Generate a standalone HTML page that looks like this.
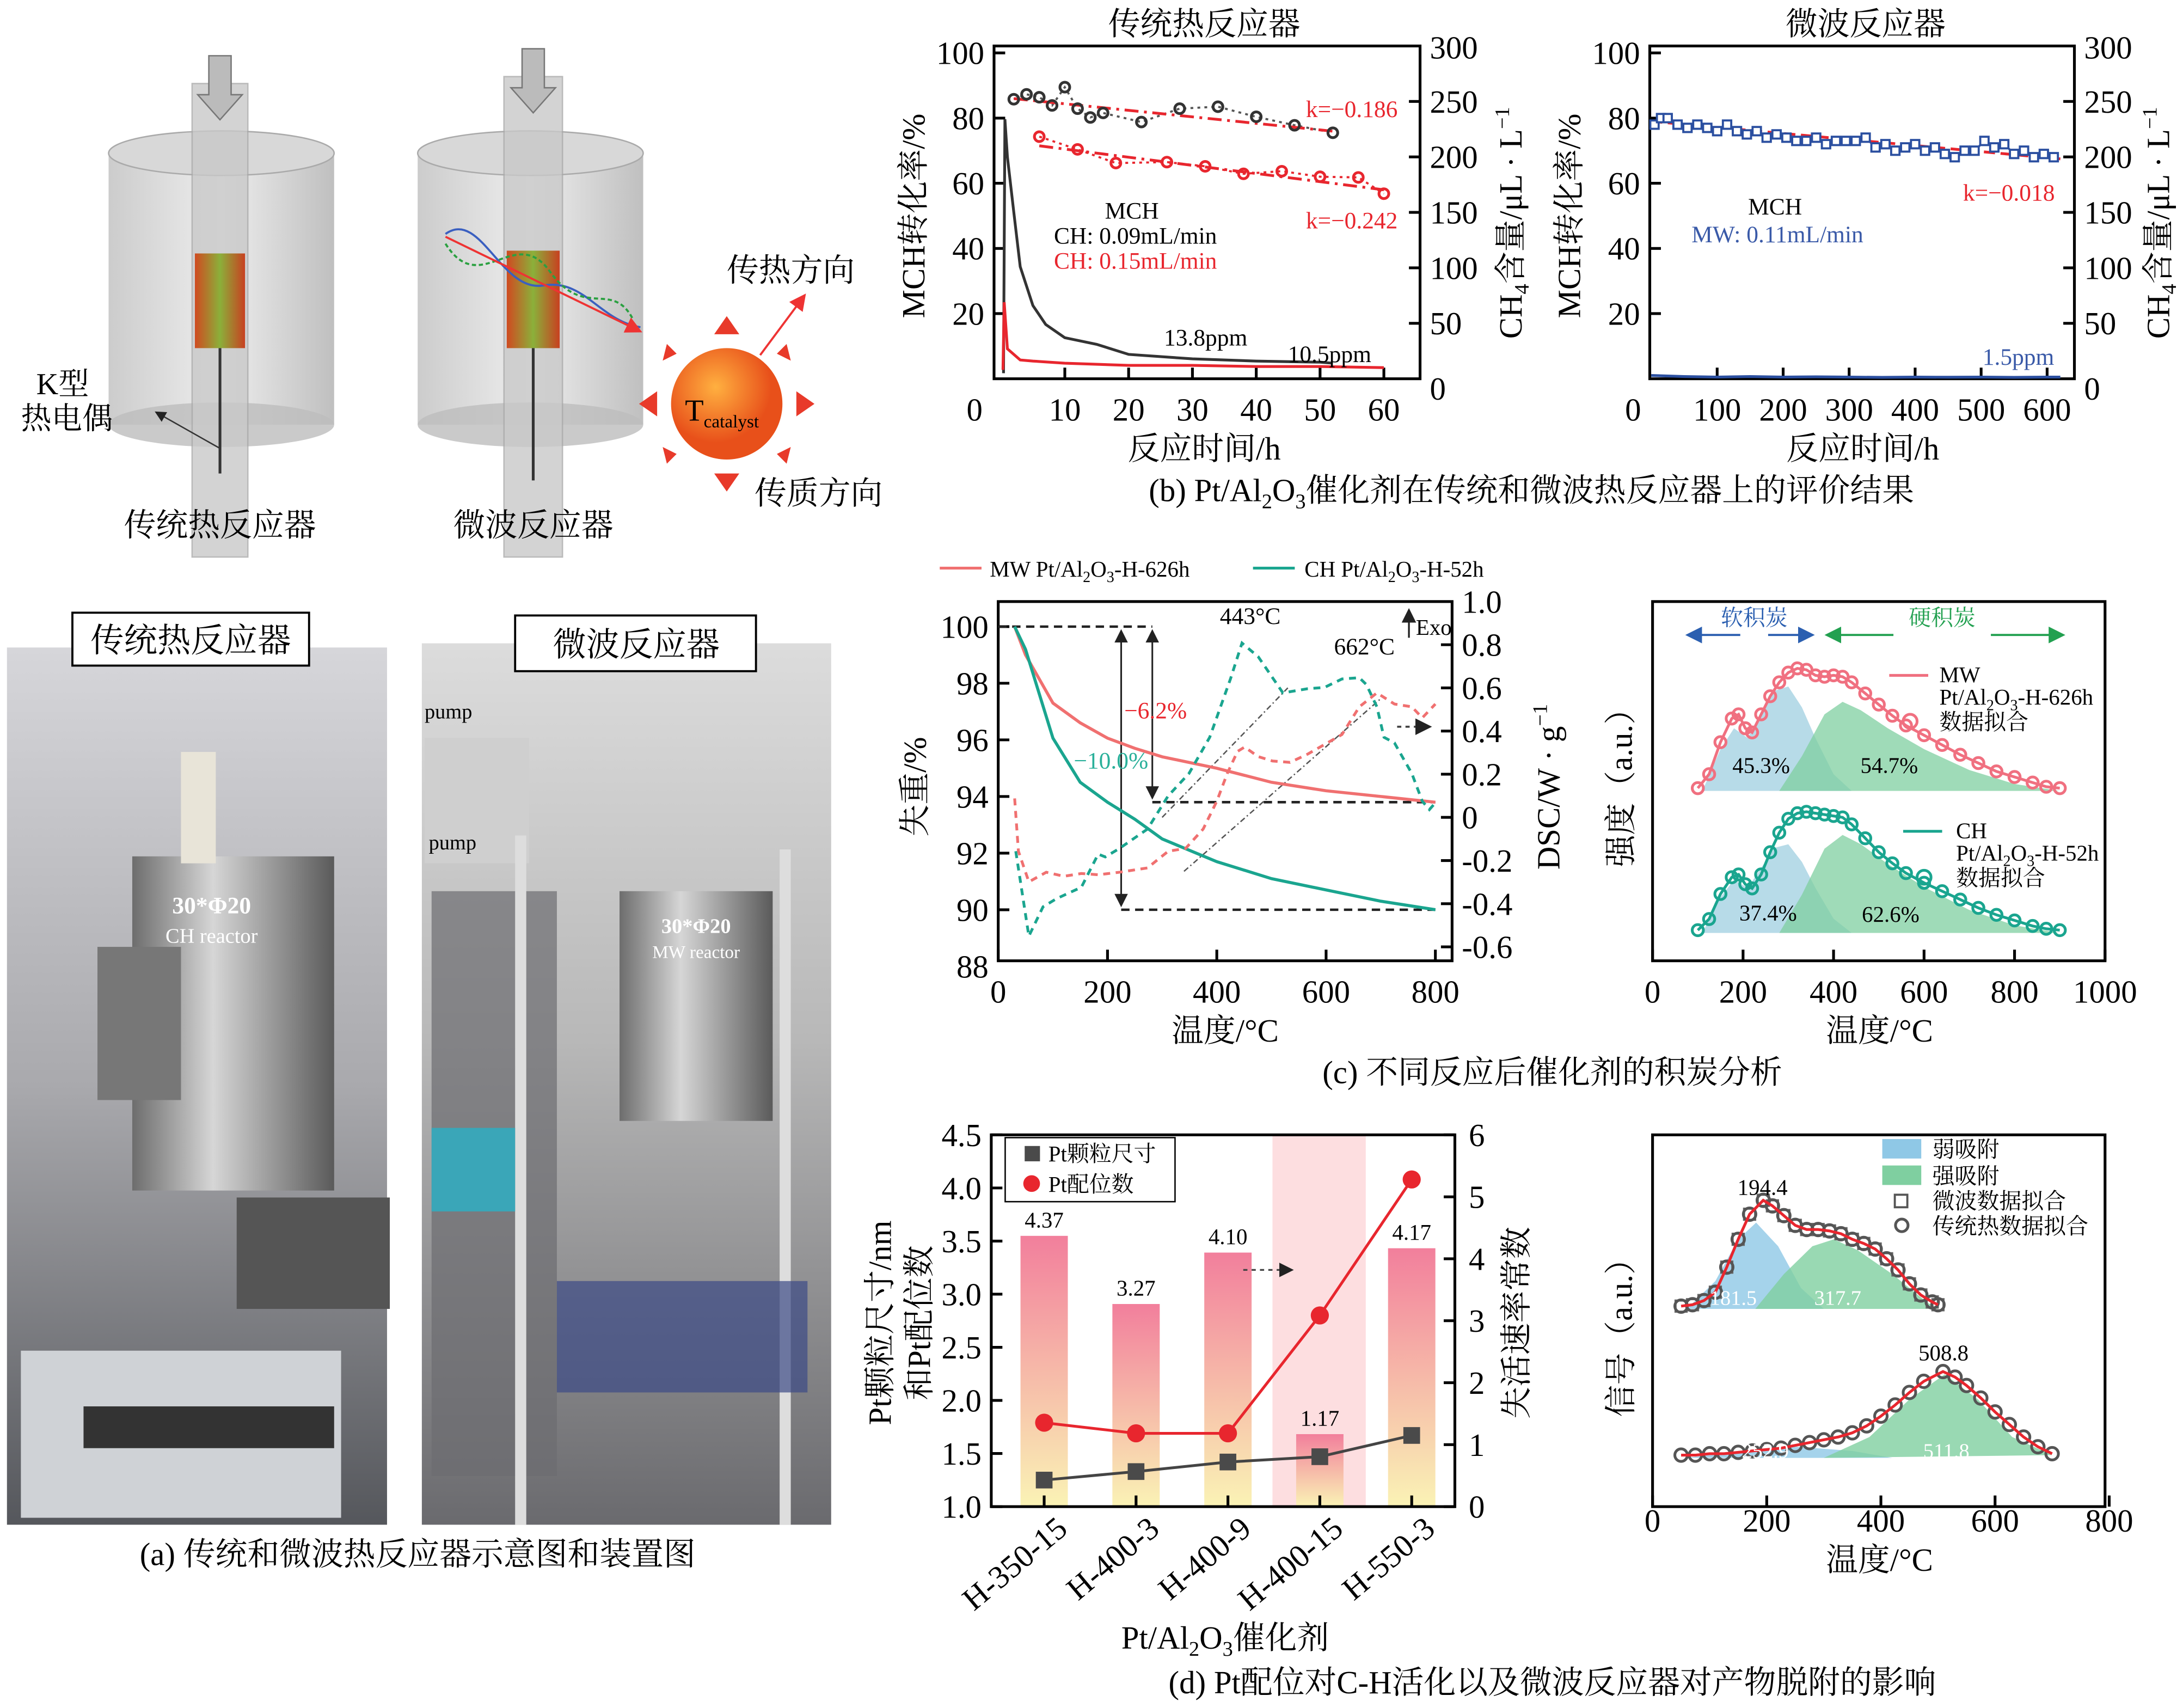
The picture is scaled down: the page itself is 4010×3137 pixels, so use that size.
<!DOCTYPE html>
<html><head><meta charset="utf-8">
<style>
html,body{margin:0;padding:0;background:#fff;}
svg{display:block;font-family:"Liberation Serif","Noto Serif CJK SC",serif;}
</style></head>
<body>
<svg id="fig" width="4010" height="3137" viewBox="0 0 1568 1226.6" xmlns="http://www.w3.org/2000/svg">
<defs>
<linearGradient id="cyl" x1="0" x2="1"><stop offset="0" stop-color="#bbb"/><stop offset="0.5" stop-color="#e8e8e8"/><stop offset="1" stop-color="#aaa"/></linearGradient>
<linearGradient id="cat" x1="0" x2="1"><stop offset="0" stop-color="#d04a20"/><stop offset="0.5" stop-color="#8bb03a"/><stop offset="1" stop-color="#c84020"/></linearGradient>
<radialGradient id="ball" cx="0.4" cy="0.35"><stop offset="0" stop-color="#ffb040"/><stop offset="1" stop-color="#e8501a"/></radialGradient>
<linearGradient id="bar" x1="0" y1="0" x2="0" y2="1"><stop offset="0" stop-color="#f27f9c"/><stop offset="1" stop-color="#faf3b5"/></linearGradient>
<linearGradient id="wall" x1="0" y1="0" x2="0" y2="1"><stop offset="0" stop-color="#d6d6da"/><stop offset="0.5" stop-color="#a9a9ad"/><stop offset="1" stop-color="#55575c"/></linearGradient>
<linearGradient id="wall2" x1="0" y1="0" x2="0" y2="1"><stop offset="0" stop-color="#dcdcdc"/><stop offset="0.45" stop-color="#b8b8b8"/><stop offset="1" stop-color="#6a6a6e"/></linearGradient>
<linearGradient id="metal" x1="0" x2="1"><stop offset="0" stop-color="#6d6d6d"/><stop offset="0.4" stop-color="#d6d6d6"/><stop offset="1" stop-color="#5a5a5a"/></linearGradient>
<marker id="ah" markerWidth="8" markerHeight="8" refX="7" refY="4" orient="auto"><path d="M0,0 L8,4 L0,8 z" fill="#222"/></marker>
<marker id="ahr" markerWidth="8" markerHeight="8" refX="7" refY="4" orient="auto"><path d="M0,0 L8,4 L0,8 z" fill="#e33"/></marker>
<marker id="ahb" markerWidth="8" markerHeight="8" refX="7" refY="4" orient="auto"><path d="M0,0 L8,4 L0,8 z" fill="#2b5fb0"/></marker>
<marker id="ahg" markerWidth="8" markerHeight="8" refX="7" refY="4" orient="auto"><path d="M0,0 L8,4 L0,8 z" fill="#22a050"/></marker>
</defs>

<g>
  <rect x="78" y="110" width="162" height="195" fill="url(#cyl)" opacity="0.75"/>
  <ellipse cx="159" cy="110" rx="81" ry="16" fill="#d8d8d8" stroke="#aaa"/>
  <ellipse cx="159" cy="305" rx="81" ry="16" fill="#bdbdbd" opacity="0.8"/>
  <rect x="138" y="60" width="40" height="340" fill="#c9c9c9" opacity="0.8" stroke="#aaa"/>
  <path d="M150,40 L166,40 L166,68 L174,68 L158,86 L142,68 L150,68 z" fill="#bbb" stroke="#777"/>
  <rect x="140" y="182" width="36" height="68" fill="url(#cat)"/>
  <line x1="158" y1="250" x2="158" y2="340" stroke="#333" stroke-width="2"/>
  <line x1="158" y1="322" x2="112" y2="296" stroke="#333" stroke-width="1" marker-end="url(#ah)"/>
  <text x="45" y="283" font-size="22" text-anchor="middle">K型</text>
  <text x="48" y="308" font-size="22" text-anchor="middle">热电偶</text>
  <text x="158" y="385" font-size="23" text-anchor="middle">传统热反应器</text>
</g>
<g>
  <rect x="300" y="110" width="162" height="195" fill="url(#cyl)" opacity="0.75"/>
  <ellipse cx="381" cy="110" rx="81" ry="16" fill="#d8d8d8" stroke="#aaa"/>
  <ellipse cx="381" cy="305" rx="81" ry="16" fill="#bdbdbd" opacity="0.8"/>
  <rect x="362" y="55" width="42" height="345" fill="#c9c9c9" opacity="0.8" stroke="#aaa"/>
  <path d="M375,35 L391,35 L391,63 L399,63 L383,81 L367,63 L375,63 z" fill="#bbb" stroke="#777"/>
  <rect x="364" y="180" width="38" height="70" fill="url(#cat)"/>
  <line x1="383" y1="250" x2="383" y2="345" stroke="#333" stroke-width="2"/>
  <path d="M320,168 C345,150 360,210 390,205 C420,200 430,230 460,235" fill="none" stroke="#3a5fc0" stroke-width="1.5"/>
  <path d="M320,175 C345,215 370,160 395,195 C420,230 440,200 455,230" fill="none" stroke="#2aa040" stroke-width="1.5" stroke-dasharray="3,2"/>
  <line x1="320" y1="170" x2="460" y2="238" stroke="#e33" stroke-width="1.5" marker-end="url(#ahr)"/>
  <text x="383" y="385" font-size="23" text-anchor="middle">微波反应器</text>
</g>
<g>
  <g fill="#e83a2a">
    <path d="M522,240 l-9,0 l9,-13 l9,13 z"/><path d="M522,340 l-9,0 l9,13 l9,-13 z"/>
    <path d="M472,290 l0,-9 l-13,9 l13,9 z"/><path d="M572,290 l0,-9 l13,9 l-13,9 z"/>
    <path d="M486,254 l-7,-7 l-3,12 z"/><path d="M558,254 l7,-7 l3,12 z"/>
    <path d="M486,326 l-7,7 l-3,-12 z"/><path d="M558,326 l7,7 l3,-12 z"/>
  </g>
  <circle cx="522" cy="290" r="40" fill="url(#ball)"/>
  <line x1="546" y1="255" x2="578" y2="212" stroke="#e33" stroke-width="1.5" marker-end="url(#ahr)"/>
  <text x="492" y="302" font-size="22">T<tspan font-size="13" dy="5">catalyst</tspan></text>
  <text x="568" y="202" font-size="23" text-anchor="middle">传热方向</text>
  <text x="588" y="362" font-size="23" text-anchor="middle">传质方向</text>
</g>

<g>
  <rect x="5" y="465" width="273" height="630" fill="url(#wall)"/>
  <rect x="95" y="615" width="145" height="240" fill="url(#metal)"/>
  <rect x="70" y="680" width="60" height="110" fill="#777"/>
  <rect x="15" y="970" width="230" height="120" fill="#cfd2d6"/>
  <rect x="60" y="1010" width="180" height="30" fill="#333"/>
  <rect x="130" y="540" width="25" height="80" fill="#e8e4d8"/>
  <rect x="170" y="860" width="110" height="80" fill="#555"/>
  <text x="152" y="656" font-size="17" fill="#fff" text-anchor="middle" font-weight="bold">30*Φ20</text>
  <text x="152" y="677" font-size="15" fill="#fff" text-anchor="middle">CH reactor</text>
  <rect x="52" y="440" width="170" height="38" fill="#fff" stroke="#000" stroke-width="1.5"/>
  <text x="137" y="468" font-size="24" text-anchor="middle">传统热反应器</text>
</g>
<g>
  <rect x="303" y="462" width="294" height="633" fill="url(#wall2)"/>
  <rect x="305" y="530" width="75" height="90" fill="#cfcfcf"/>
  <rect x="310" y="640" width="90" height="420" fill="#6c6c70" opacity="0.7"/>
  <rect x="445" y="640" width="110" height="165" fill="url(#metal)"/>
  <rect x="370" y="600" width="8" height="495" fill="#ddd"/>
  <rect x="560" y="610" width="8" height="485" fill="#ddd"/>
  <rect x="310" y="810" width="60" height="60" fill="#3aa6b8"/>
  <rect x="400" y="920" width="180" height="80" fill="#3c4a86" opacity="0.7"/>
  <text x="305" y="516" font-size="15">pump</text>
  <text x="308" y="610" font-size="15">pump</text>
  <text x="500" y="670" font-size="15" fill="#fff" text-anchor="middle" font-weight="bold">30*Φ20</text>
  <text x="500" y="688" font-size="13" fill="#fff" text-anchor="middle">MW reactor</text>
  <rect x="370" y="442" width="173" height="40" fill="#fff" stroke="#000" stroke-width="1.5"/>
  <text x="457" y="471" font-size="24" text-anchor="middle">微波反应器</text>
</g>
<text x="300" y="1124" font-size="23" text-anchor="middle">(a) 传统和微波热反应器示意图和装置图</text>
<text x="1100" y="360" font-size="23" text-anchor="middle">(b) Pt/Al<tspan font-size="15" dy="5">2</tspan><tspan dy="-5">O</tspan><tspan font-size="15" dy="5">3</tspan><tspan dy="-5">催化剂在传统和微波热反应器上的评价结果</tspan></text>
<text x="1115" y="778" font-size="23" text-anchor="middle">(c) 不同反应后催化剂的积炭分析</text>
<text x="1115" y="1216" font-size="23" text-anchor="middle">(d) Pt配位对C-H活化以及微波反应器对产物脱附的影响</text>

<g id="b1"></g>
<g id="b2"></g>
<g id="c1"></g>
<g id="c2"></g>
<g id="d1"></g>
<g id="d2"></g>
</svg>
<script>
// ---------- data ----------
const b1BlackX=[2,4,6,8,10,12,14,16,22,28,34,40,46,52];
const b1BlackY=[85.8,87.3,86.4,83.9,89.5,82.9,80.2,81.6,78.8,82.9,83.5,80.4,77.8,75.5];
const b1RedX=[6,12,18,26,32,38,44,50,56,60];
const b1RedY=[74.3,70.4,66.2,66.5,65.2,62.9,63.7,62.0,61.8,56.8];
const b1Fit1=[[2,86],[52,76]];
const b1Fit2=[[6,71.5],[60,58]];
const b1Ch4BlackX=[0.4,0.6,1,2,3,5,7,10,15,20,30,40,50,52];
const b1Ch4BlackY=[5,234,200,150,101,66,49,37,31,22,18,16,15,14];
const b1Ch4RedX=[0.3,0.5,1,3,5,10,20,30,40,50,60];
const b1Ch4RedY=[8,69,27,17,16,14,12,12,11,11,10];
const b1XTicks=[10,20,30,40,50,60];
const leftTicks=[20,40,60,80,100];
const rightTicks=[0,50,100,150,200,250,300];
const b2X=[5,15,25,40,55,70,85,100,115,130,145,160,175,190,205,220,235,250,265,280,295,310,325,340,355,370,385,400,415,430,445,460,475,490,505,520,535,550,565,580,595,610];
const b2Y=[78,80,80,78,77,78,77,76,78,76,75,76,74,75,74,73,73,74,72,73,73,73,74,71,72,70,71,72,70,71,69,68,70,70,73,71,72,69,70,68,69,68];
const b2ChX=[0,50,100,150,200,250,300,350,400,450,500,550,600,620];
const b2ChY=[3,2,1.5,2,1.5,1.8,1.5,1.2,1.5,1.4,1.5,1.3,1.5,1.5];
const b2Fit=[[0,79],[620,67.5]];
const b2XTicks=[100,200,300,400,500,600];
const c1T=[30,50,100,150,200,250,300,400,500,600,700,800];
const c1RedTG=[100,99.0,97.3,96.6,96.06,95.7,95.4,95.0,94.5,94.2,94.0,93.8];
const c1TealTG=[100,99.2,96.06,94.5,93.8,93.2,92.5,91.7,91.1,90.7,90.3,90.0];
const c1TealDscT=[32,56,82,107,152,183,196,222,273,311,349,387,425,446,476,521,566,597,629,661,674,693,706,725,757,776,789,800];
const c1TealDsc=[-0.157,-0.55,-0.414,-0.376,-0.324,-0.17,-0.183,-0.144,-0.054,0.10,0.203,0.371,0.641,0.808,0.744,0.577,0.596,0.602,0.641,0.647,0.615,0.512,0.371,0.345,0.203,0.075,0.036,0.068];
const c1RedDscT=[30,37,56,88,120,152,183,222,273,311,343,375,400,419,438,451,476,502,534,566,629,661,693,725,757,776,800];
const c1RedDsc=[0.088,-0.157,-0.299,-0.254,-0.273,-0.26,-0.266,-0.254,-0.234,-0.157,-0.144,-0.054,0.075,0.203,0.306,0.326,0.281,0.261,0.255,0.293,0.384,0.512,0.577,0.525,0.512,0.461,0.525];
const c1XTicks=[0,200,400,600,800];
const c1LeftTicks=[88,90,92,94,96,98,100];
const c1RightTicks=[-0.6,-0.4,-0.2,0,0.2,0.4,0.6,0.8,1.0];
const c2T=[100,125,150,175,190,205,220,240,260,280,300,320,340,360,380,400,420,440,470,500,530,560,600,640,680,720,760,800,840,870,900];
const c2MW=[0.02,0.12,0.35,0.52,0.55,0.45,0.42,0.55,0.68,0.78,0.85,0.88,0.87,0.83,0.82,0.83,0.82,0.78,0.7,0.62,0.54,0.47,0.4,0.33,0.26,0.2,0.14,0.1,0.06,0.03,0.02];
const c2CH=[0.02,0.1,0.28,0.4,0.42,0.35,0.32,0.42,0.58,0.72,0.82,0.86,0.87,0.86,0.85,0.84,0.83,0.78,0.68,0.58,0.5,0.43,0.36,0.3,0.24,0.18,0.13,0.09,0.05,0.03,0.02];
const c2SoftT=[110,150,180,210,240,270,300,330,360,400,440];
const c2SoftI=[0,0.3,0.45,0.38,0.55,0.72,0.75,0.6,0.38,0.12,0];
const c2HardT=[280,330,380,420,460,520,600,700,800,900];
const c2HardI=[0,0.25,0.55,0.64,0.58,0.45,0.3,0.15,0.05,0];
const c2XTicks=[0,200,400,600,800,1000];
const d1Cats=["H-350-15","H-400-3","H-400-9","H-400-15","H-550-3"];
const d1Rate=[4.37,3.27,4.10,1.17,4.17];
const d1Size=[1.25,1.33,1.42,1.47,1.67];
const d1Coord=[1.79,1.69,1.69,2.8,4.08];
const d1LeftTicks=[1.0,1.5,2.0,2.5,3.0,3.5,4.0,4.5];
const d1RightTicks=[0,1,2,3,4,5,6];
const d2TopT=[50,70,90,110,130,150,170,194,210,230,250,270,290,310,330,350,370,390,410,430,450,470,490,500];
const d2TopI=[0.02,0.03,0.06,0.12,0.3,0.5,0.68,0.78,0.74,0.67,0.6,0.57,0.57,0.56,0.54,0.5,0.47,0.43,0.36,0.28,0.18,0.1,0.05,0.03];
const d2TopWeakT=[60,110,150,181.5,220,260,300];
const d2TopWeakI=[0,0.2,0.5,0.62,0.45,0.15,0];
const d2TopStrT=[180,230,280,317.7,360,420,480,500];
const d2TopStrI=[0,0.25,0.45,0.5,0.42,0.25,0.05,0];
const d2BotT=[50,75,100,125,150,175,200,225,250,275,300,325,350,375,400,425,450,475,508.8,530,550,575,600,625,650,675,700];
const d2BotI=[0.02,0.02,0.03,0.03,0.04,0.05,0.06,0.07,0.09,0.11,0.13,0.15,0.18,0.23,0.3,0.38,0.47,0.55,0.62,0.58,0.52,0.43,0.33,0.24,0.15,0.08,0.03];
const d2BotWeakT=[60,150,252.9,350,420];
const d2BotWeakI=[0,0.05,0.08,0.05,0];
const d2BotStrT=[300,380,450,511.8,570,630,700];
const d2BotStrI=[0,0.15,0.42,0.6,0.42,0.15,0.02];
const d2XTicks=[0,200,400,600,800];

// ---------- helpers ----------
const NS='http://www.w3.org/2000/svg';
function mk(tag,attrs,parent){const e=document.createElementNS(NS,tag);for(const k in attrs)e.setAttribute(k,attrs[k]);parent.appendChild(e);return e;}
function lin(d0,d1,p0,p1){return v=>p0+(v-d0)*(p1-p0)/(d1-d0);}
function tx(parent,x,y,s,size,fill,anchor,name){const t=mk('text',{x:x,y:y,'font-size':size,fill:fill||'#000','text-anchor':anchor||'middle'},parent);t.textContent=s;


return t;}
function pathD(xs,ys,sx,sy){return xs.map((v,i)=>(i?'L':'M')+sx(v).toFixed(1)+','+sy(ys[i]).toFixed(1)).join(' ');}
function line(parent,d,stroke,w,dash,name){const p=mk('path',{d:d,fill:'none',stroke:stroke,'stroke-width':w},parent);if(dash)p.setAttribute('stroke-dasharray',dash);


return p;}
function box(g,x0,y0,x1,y1){const r=mk('rect',{x:x0,y:y0,width:x1-x0,height:y1-y0,fill:'none',stroke:'#000','stroke-width':2},g);

}
function yTicks(g,ticks,labels,sy,x,dir,lx,anchor,size,name){ticks.forEach((v,i)=>{const l=mk('line',{x1:x,x2:x+dir*8,y1:sy(v),y2:sy(v),stroke:'#000','stroke-width':2},g);


tx(g,lx,sy(v)+8,labels[i],size,'#000',anchor,name+'-label');});}
function xTicks(g,ticks,labels,sx,y,ly,size,name){ticks.forEach((v,i)=>{const l=mk('line',{x1:sx(v),x2:sx(v),y1:y,y2:y-8,stroke:'#000','stroke-width':2},g);


tx(g,sx(v),ly,labels[i],size,'#000','middle',name+'-label');});}
function vtext(g,x,y,s,size,name){const t=tx(g,x,y,s,size,'#000','middle',name);t.setAttribute('transform','rotate(-90 '+x+' '+y+')');return t;}
function circles(g,xs,ys,sx,sy,r,stroke,name,fill){xs.forEach((v,i)=>{const c=mk('circle',{cx:sx(v),cy:sy(ys[i]),r:r,fill:fill||'none',stroke:stroke,'stroke-width':2},g);

});}

// ---------- b1 ----------
(function(){const g=document.getElementById('b1');
const sx=lin(0,60,719,994), sy=lin(0,100,272,38), sr=lin(0,300,272,33);
box(g,714,33,1020,272);
yTicks(g,leftTicks,leftTicks.map(String),sy,714,1,707,'end',23,'b1-left-axis');
yTicks(g,rightTicks.slice(1,6),rightTicks.slice(1,6).map(String),sr,1020,-1,1027,'start',23,'b1-right-axis');
tx(g,1027,42,'300',23,'#000','start','b1-right-axis-label');
tx(g,1027,287,'0',23,'#000','start','b1-right-axis-label');
xTicks(g,b1XTicks,b1XTicks.map(String),sx,272,302,23,'b1-x-axis');
tx(g,700,302,'0',23,'#000','middle','b1-x-axis-label');
tx(g,865,25,'传统热反应器',23,'#000','middle','b1-title');
tx(g,865,330,'反应时间/h',23,'#000','middle','b1-x-axis-title');
vtext(g,664,155,'MCH转化率/%',23,'b1-left-axis-title');
const rt=vtext(g,1093,160,'',23,'b1-right-axis-title');rt.innerHTML='CH<tspan font-size="15" dy="5">4</tspan><tspan dy="-5">含量/μL · L</tspan><tspan font-size="15" dy="-9">−1</tspan>';
line(g,pathD(b1Ch4BlackX,b1Ch4BlackY,sx,sr),'#333',2,null,'b1-ch4-black-line');
line(g,pathD(b1Ch4RedX,b1Ch4RedY,sx,sr),'#e8262e',2,null,'b1-ch4-red-line');
line(g,pathD(b1BlackX,b1BlackY,sx,sy),'#555',1.5,'2,3','b1-black-series-line');
line(g,pathD(b1RedX,b1RedY,sx,sy),'#e8262e',1.5,'2,3','b1-red-series-line');
line(g,pathD(b1Fit1.map(p=>p[0]),b1Fit1.map(p=>p[1]),sx,sy),'#e8262e',2,'10,4,2,4','b1-fit-line-1');
line(g,pathD(b1Fit2.map(p=>p[0]),b1Fit2.map(p=>p[1]),sx,sy),'#e8262e',2,'10,4,2,4','b1-fit-line-2');
circles(g,b1BlackX,b1BlackY,sx,sy,3.5,'#333','b1-black-point');
circles(g,b1RedX,b1RedY,sx,sy,3.5,'#e8262e','b1-red-point');
tx(g,938,84,'k=−0.186',17,'#e8262e','start','b1-k1');
tx(g,938,164,'k=−0.242',17,'#e8262e','start','b1-k2');
tx(g,813,157,'MCH',17,'#000','middle','b1-mch-label');
tx(g,757,175,'CH: 0.09mL/min',17,'#000','start','b1-ch-black-label');
tx(g,757,193,'CH: 0.15mL/min',17,'#e8262e','start','b1-ch-red-label');
tx(g,836,248,'13.8ppm',17,'#000','start','b1-ppm1');
tx(g,925,260,'10.5ppm',17,'#000','start','b1-ppm2');
})();

// ---------- b2 ----------
(function(){const g=document.getElementById('b2');
const sx=lin(0,100,1186,1233.4), sy=lin(0,100,272,38), sr=lin(0,300,272,33);
box(g,1185,33,1490,272);
yTicks(g,leftTicks,leftTicks.map(String),sy,1185,1,1178,'end',23,'b2-left-axis');
yTicks(g,rightTicks.slice(1,6),rightTicks.slice(1,6).map(String),sr,1490,-1,1497,'start',23,'b2-right-axis');
tx(g,1497,42,'300',23,'#000','start','b2-right-axis-label');
tx(g,1497,287,'0',23,'#000','start','b2-right-axis-label');
xTicks(g,b2XTicks,b2XTicks.map(String),sx,272,302,23,'b2-x-axis');
tx(g,1173,302,'0',23,'#000','middle','b2-x-axis-label');
tx(g,1340,25,'微波反应器',23,'#000','middle','b2-title');
tx(g,1338,330,'反应时间/h',23,'#000','middle','b2-x-axis-title');
vtext(g,1135,155,'MCH转化率/%',23,'b2-left-axis-title');
const rt=vtext(g,1558,160,'',23,'b2-right-axis-title');rt.innerHTML='CH<tspan font-size="15" dy="5">4</tspan><tspan dy="-5">含量/μL · L</tspan><tspan font-size="15" dy="-9">−1</tspan>';
line(g,pathD(b2ChX,b2ChY,sx,sr),'#2b4fa0',2,null,'b2-ch4-line');
line(g,pathD(b2X,b2Y,sx,sy),'#2b4fa0',1.5,null,'b2-conversion-line');
line(g,pathD(b2Fit.map(p=>p[0]),b2Fit.map(p=>p[1]),sx,sy),'#e8262e',2,'8,4','b2-fit-line');
b2X.forEach((v,i)=>{const r=mk('rect',{x:sx(v)-3,y:sy(b2Y[i])-3,width:6,height:6,fill:'#fff',stroke:'#2b4fa0','stroke-width':1.5},g);

});
tx(g,1410,144,'k=−0.018',17,'#e8262e','start','b2-k');
tx(g,1275,154,'MCH',17,'#000','middle','b2-mch-label');
tx(g,1215,174,'MW: 0.11mL/min',17,'#3a5aa8','start','b2-mw-label');
tx(g,1424,262,'1.5ppm',17,'#3a5aa8','start','b2-ppm');
})();

// ---------- c1 ----------
(function(){const g=document.getElementById('c1');
const sx=lin(0,800,717,1031), sy=lin(88,100,694,450), sr=lin(0,0.2,587,556);
const l1=mk('line',{x1:675,x2:705,y1:408,y2:408,stroke:'#f07070','stroke-width':2},g);


tx(g,711,414,'',16,'#000','start','c1-legend-mw').innerHTML='MW Pt/Al<tspan font-size="11" dy="4">2</tspan><tspan dy="-4">O</tspan><tspan font-size="11" dy="4">3</tspan><tspan dy="-4">-H-626h</tspan>';
const l2=mk('line',{x1:900,x2:930,y1:408,y2:408,stroke:'#1aa58f','stroke-width':2},g);


tx(g,937,414,'',16,'#000','start','c1-legend-ch').innerHTML='CH Pt/Al<tspan font-size="11" dy="4">2</tspan><tspan dy="-4">O</tspan><tspan font-size="11" dy="4">3</tspan><tspan dy="-4">-H-52h</tspan>';
box(g,717,432,1043,690);
yTicks(g,c1LeftTicks.slice(1),c1LeftTicks.slice(1).map(String),sy,717,1,710,'end',23,'c1-left-axis');
tx(g,710,702,'88',23,'#000','end','c1-left-axis-label');
yTicks(g,c1RightTicks.slice(0,8),c1RightTicks.slice(0,8).map(v=>v===0?'0':v.toFixed(1)),sr,1043,-1,1050,'start',23,'c1-right-axis');
tx(g,1050,440,'1.0',23,'#000','start','c1-right-axis-label');
xTicks(g,c1XTicks,c1XTicks.map(String),sx,690,720,23,'c1-x-axis');
tx(g,880,748,'温度/°C',23,'#000','middle','c1-x-axis-title');
vtext(g,665,565,'失重/%',23,'c1-left-axis-title');
vtext(g,1120,565,'',23,'c1-right-axis-title').innerHTML='DSC/W · g<tspan font-size="15" dy="-9">−1</tspan>';
const dl=[[0,100,282,100],[282,93.8,800,93.8],[225,90,800,90]];
dl.forEach(a=>line(g,'M'+sx(a[0])+','+sy(a[1])+' L'+sx(a[2])+','+sy(a[3]),'#222',1.8,'6,4','c1-guide-line'));
[[225,100,90],[282,100,93.8]].forEach(a=>{
const m=(sy(a[1])+sy(a[2]))/2;
line(g,'M'+sx(a[0])+','+m+' L'+sx(a[0])+','+(sy(a[1])+3),'#222',1.2,null,'c1-arrow-up').setAttribute('marker-end','url(#ah)');
line(g,'M'+sx(a[0])+','+m+' L'+sx(a[0])+','+(sy(a[2])-3),'#222',1.2,null,'c1-arrow-down').setAttribute('marker-end','url(#ah)');});
line(g,'M'+sx(300)+','+sr(0.0)+' L'+sx(530)+','+sr(0.6),'#555',1,'4,2,1,2','c1-tangent-1');
line(g,'M'+sx(340)+','+sr(-0.25)+' L'+sx(700)+','+sr(0.55),'#555',1,'4,2,1,2','c1-tangent-2');
line(g,pathD(c1T,c1RedTG,sx,sy),'#f07070',2.2,null,'c1-mw-tg-line');
line(g,pathD(c1T,c1TealTG,sx,sy),'#1aa58f',2.2,null,'c1-ch-tg-line');
line(g,pathD(c1TealDscT,c1TealDsc,sx,sr),'#1aa58f',2,'5,4','c1-ch-dsc-line');
line(g,pathD(c1RedDscT,c1RedDsc,sx,sr),'#f07070',2,'5,4','c1-mw-dsc-line');
line(g,'M'+sx(730)+','+sr(0.42)+' L'+sx(790)+','+sr(0.42),'#444',1.5,'3,3','c1-axis-arrow').setAttribute('marker-end','url(#ah)');
tx(g,898,448,'443°C',17,'#000','middle','c1-peak-443');
tx(g,980,470,'662°C',17,'#000','middle','c1-peak-662');
tx(g,1017,456,'Exo',16,'#000','start','c1-exo');
line(g,'M1012,458 L1012,438','#222',1.3,null,'c1-exo-arrow').setAttribute('marker-end','url(#ah)');
tx(g,830,516,'−6.2%',17,'#e8262e','middle','c1-mw-loss');
tx(g,798,552,'−10.0%',17,'#2ab09a','middle','c1-ch-loss');
})();

// ---------- c2 ----------
(function(){const g=document.getElementById('c2');
const sx=lin(0,200,1187,1252);
const top=v=>568-v*100, bot=v=>670-v*100;
box(g,1187,432,1512,690);
xTicks(g,c2XTicks,c2XTicks.map(String),sx,690,720,23,'c2-x-axis');
tx(g,1350,748,'温度/°C',23,'#000','middle','c2-x-axis-title');
vtext(g,1172,560,'强度（a.u.）',23,'c2-y-axis-title');
function area(ts,is,sy,fill,name){const d=pathD(ts,is,sx,sy)+' Z';const p=mk('path',{d:d,fill:fill,opacity:0.75},g);

}
area(c2SoftT,c2SoftI,top,'#9fcfe0','c2-mw-soft-area');
area(c2HardT,c2HardI,top,'#7fcfa0','c2-mw-hard-area');
area(c2SoftT,c2SoftI.map(v=>v*0.85),bot,'#9fcfe0','c2-ch-soft-area');
area(c2HardT,c2HardI.map(v=>v*1.1),bot,'#7fcfa0','c2-ch-hard-area');
line(g,pathD(c2T,c2MW,sx,top),'#f07080',2,null,'c2-mw-line');
line(g,pathD(c2T,c2CH,sx,bot),'#1aa58f',2,null,'c2-ch-line');
circles(g,c2T,c2MW,sx,top,4,'#f07080','c2-mw-point');
circles(g,c2T,c2CH,sx,bot,4,'#1aa58f','c2-ch-point');
tx(g,1265,555,'45.3%',16,'#000','middle','c2-mw-soft-pct');
tx(g,1357,555,'54.7%',16,'#000','middle','c2-mw-hard-pct');
tx(g,1270,661,'37.4%',16,'#000','middle','c2-ch-soft-pct');
tx(g,1358,662,'62.6%',16,'#000','middle','c2-ch-hard-pct');
line(g,'M1250,456 L1212,456','#2b5fb0',1.5,null,'c2-soft-arrow').setAttribute('marker-end','url(#ahb)');
line(g,'M1270,456 L1302,456','#2b5fb0',1.5,null,'c2-soft-arrow-2').setAttribute('marker-end','url(#ahb)');
line(g,'M1360,456 L1312,456','#22a050',1.5,null,'c2-hard-arrow').setAttribute('marker-end','url(#ahg)');
line(g,'M1430,456 L1482,456','#22a050',1.5,null,'c2-hard-arrow-2').setAttribute('marker-end','url(#ahg)');
tx(g,1260,449,'软积炭',16,'#2b5fb0','middle','c2-soft-label');
tx(g,1395,449,'硬积炭',16,'#22a050','middle','c2-hard-label');
const lg=mk('line',{x1:1357,x2:1385,y1:485,y2:485,stroke:'#f07080','stroke-width':2},g);


tx(g,1393,490,'MW',16,'#000','start','c2-legend-mw');
tx(g,1393,506,'',16,'#000','start','c2-legend-mw-2').innerHTML='Pt/Al<tspan font-size="11" dy="4">2</tspan><tspan dy="-4">O</tspan><tspan font-size="11" dy="4">3</tspan><tspan dy="-4">-H-626h</tspan>';
circles(g,[0],[0],v=>1372,v=>518,5,'#f07080','c2-legend-mw-marker');
tx(g,1393,524,'数据拟合',16,'#000','start','c2-legend-mw-fit');
const lg2=mk('line',{x1:1367,x2:1395,y1:597,y2:597,stroke:'#1aa58f','stroke-width':2},g);


tx(g,1405,602,'CH',16,'#000','start','c2-legend-ch');
tx(g,1405,618,'',16,'#000','start','c2-legend-ch-2').innerHTML='Pt/Al<tspan font-size="11" dy="4">2</tspan><tspan dy="-4">O</tspan><tspan font-size="11" dy="4">3</tspan><tspan dy="-4">-H-52h</tspan>';
circles(g,[0],[0],v=>1382,v=>630,5,'#1aa58f','c2-legend-ch-marker');
tx(g,1405,636,'数据拟合',16,'#000','start','c2-legend-ch-fit');
})();

// ---------- d1 ----------
(function(){const g=document.getElementById('d1');
const band=66, x0=717;
const cx=i=>x0+band*i+band/2;
const sy=lin(1,4.5,1082,815), sr=lin(0,6,1082,815);
const hl=mk('rect',{x:914,y:815,width:67,height:267,fill:'#fcd6d8',opacity:0.8},g);


d1Rate.forEach((v,i)=>{const r=mk('rect',{x:cx(i)-17,y:sr(v),width:34,height:1082-sr(v),fill:'url(#bar)'},g);


tx(g,cx(i),sr(v)-6,v.toFixed(2),16,'#000','middle','d1-bar-value');});
box(g,712,815,1045,1082);
yTicks(g,d1LeftTicks,d1LeftTicks.map(v=>v.toFixed(1)),sy,712,1,705,'end',23,'d1-left-axis');
yTicks(g,d1RightTicks,d1RightTicks.map(String),sr,1045,-1,1055,'start',23,'d1-right-axis');
d1Cats.forEach((c,i)=>{const l=mk('line',{x1:cx(i),x2:cx(i),y1:1082,y2:1074,stroke:'#000','stroke-width':2},g);


const t=tx(g,cx(i)+18,1100,c,23,'#000','end','d1-x-label');t.setAttribute('transform','rotate(-40 '+(cx(i)+18)+' 1100)');});
tx(g,880,1184,'',23,'#000','middle','d1-x-axis-title').innerHTML='Pt/Al<tspan font-size="15" dy="5">2</tspan><tspan dy="-5">O</tspan><tspan font-size="15" dy="5">3</tspan><tspan dy="-5">催化剂</tspan>';
vtext(g,640,950,'Pt颗粒尺寸/nm',23,'d1-left-axis-title');
vtext(g,668,950,'和Pt配位数',23,'d1-left-axis-title-2');
vtext(g,1097,950,'失活速率常数',23,'d1-right-axis-title');
line(g,d1Size.map((v,i)=>(i?'L':'M')+cx(i)+','+sy(v)).join(' '),'#444',2,null,'d1-size-line');
line(g,d1Coord.map((v,i)=>(i?'L':'M')+cx(i)+','+sy(v)).join(' '),'#e8262e',2,null,'d1-coord-line');
d1Size.forEach((v,i)=>{const r=mk('rect',{x:cx(i)-6,y:sy(v)-6,width:12,height:12,fill:'#4a4a4a'},g);

});
d1Coord.forEach((v,i)=>{const c=mk('circle',{cx:cx(i),cy:sy(v),r:6.5,fill:'#e8262e'},g);

});
line(g,'M893,912 L928,912','#444',1.3,'3,3','d1-trend-arrow').setAttribute('marker-end','url(#ah)');
const lb=mk('rect',{x:722,y:817,width:122,height:46,fill:'#fff',stroke:'#000','stroke-width':1},g);


const s1=mk('rect',{x:736,y:823,width:11,height:11,fill:'#4a4a4a'},g);


tx(g,753,834,'Pt颗粒尺寸',16,'#000','start','d1-legend-size');
const s2=mk('circle',{cx:741,cy:850,r:6,fill:'#e8262e'},g);


tx(g,753,856,'Pt配位数',16,'#000','start','d1-legend-coord');
})();

// ---------- d2 ----------
(function(){const g=document.getElementById('d2');
const sx=lin(0,200,1187,1269);
const top=v=>940-v*100, bot=v=>1047-v*100;
box(g,1187,815,1512,1082);
xTicks(g,d2XTicks,d2XTicks.map(String),sx,1082,1100,23,'d2-x-axis');
tx(g,1350,1128,'温度/°C',23,'#000','middle','d2-x-axis-title');
vtext(g,1172,955,'信号（a.u.）',23,'d2-y-axis-title');
function area(ts,is,sy,fill,name){const p=mk('path',{d:pathD(ts,is,sx,sy)+' Z',fill:fill,opacity:0.8},g);

}
area(d2TopWeakT,d2TopWeakI,top,'#8fc8e6','d2-top-weak-area');
area(d2TopStrT,d2TopStrI,top,'#7fcfa0','d2-top-strong-area');
area(d2BotWeakT,d2BotWeakI,bot,'#8fc8e6','d2-bottom-weak-area');
area(d2BotStrT,d2BotStrI,bot,'#7fcfa0','d2-bottom-strong-area');
d2TopT.forEach((v,i)=>{const r=mk('rect',{x:sx(v)-4,y:top(d2TopI[i])-4,width:8,height:8,fill:'none',stroke:'#666','stroke-width':1.5},g);

});
circles(g,d2TopT,d2TopI,sx,top,4.5,'#555','d2-top-point');
circles(g,d2BotT,d2BotI,sx,bot,4.5,'#555','d2-bottom-point');
line(g,pathD(d2TopT,d2TopI,sx,top),'#e8262e',2,null,'d2-top-fit-line');
line(g,pathD(d2BotT,d2BotI,sx,bot),'#e8262e',2,null,'d2-bottom-fit-line');
tx(g,1266,858,'194.4',16,'#000','middle','d2-peak-194');
tx(g,1396,977,'508.8',16,'#000','middle','d2-peak-508');
tx(g,1245,937,'181.5',15,'#fff','middle','d2-comp-181');
tx(g,1320,937,'317.7',15,'#fff','middle','d2-comp-317');
tx(g,1268,1047,'252.9',15,'#fff','middle','d2-comp-252');
tx(g,1398,1047,'511.8',15,'#fff','middle','d2-comp-511');
const lw=mk('rect',{x:1352,y:818,width:28,height:14,fill:'#8fc8e6'},g);


tx(g,1388,831,'弱吸附',16,'#000','start','d2-legend-weak');
const ls=mk('rect',{x:1352,y:837,width:28,height:14,fill:'#7fcfa0'},g);


tx(g,1388,850,'强吸附',16,'#000','start','d2-legend-strong');
const lq=mk('rect',{x:1361,y:858,width:9,height:9,fill:'none',stroke:'#555','stroke-width':1.5},g);


tx(g,1388,868,'微波数据拟合',16,'#000','start','d2-legend-mw');
circles(g,[0],[0],v=>1366,v=>880,4.5,'#555','d2-legend-ch-marker');
tx(g,1388,886,'传统热数据拟合',16,'#000','start','d2-legend-ch');
})();
</script>
</body></html>
